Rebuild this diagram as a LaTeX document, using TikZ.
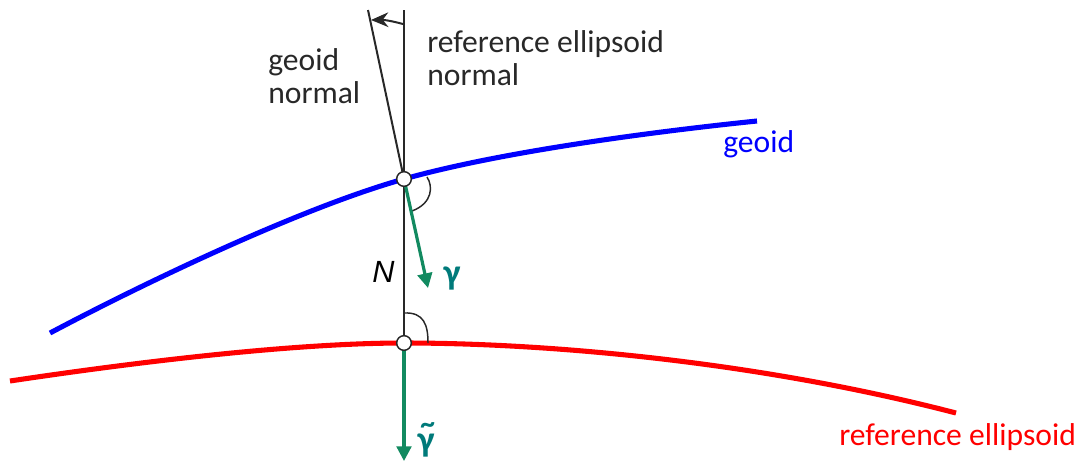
\documentclass[tikz,border=0pt]{standalone}
\usepackage{fontspec}
\setmainfont{Carlito}
\newfontfamily\arialfont{Liberation Sans}
\usetikzlibrary{arrows.meta}
\definecolor{geoidblue}{RGB}{0,0,255}
\definecolor{ellred}{RGB}{255,0,0}
\definecolor{arrgreen}{RGB}{18,138,96}
\definecolor{gamteal}{RGB}{0,122,122}
\definecolor{dark}{RGB}{40,40,40}
\tikzset{
  surf/.style={line width=3.8pt},
  normalline/.style={draw=dark, line width=1.5pt},
  grav/.style={draw=arrgreen, line width=2.4pt, -{Triangle[length=11pt,width=11pt]}},
  anglemark/.style={draw=dark, line width=1.1pt},
  pt/.style={circle, draw=black!85, fill=white, line width=1.1pt, minimum size=11pt, inner sep=0pt},
  lbl/.style={font=\fontsize{23.7}{24.75}\selectfont, inner sep=0pt, align=left},
  glbl/.style={font=\fontsize{27}{28}\selectfont\bfseries, text=gamteal, inner sep=0pt}
}
\begin{document}
\begin{tikzpicture}[x=0.75pt,y=-0.75pt]
\useasboundingbox (0,0) rectangle (1078,461);
% key points
\coordinate (P) at (404,179);
\coordinate (Q) at (404,343);
\coordinate (vtop) at (404,10);
\coordinate (gtop) at (368,10);
\coordinate (gtip) at (428,288);
\coordinate (etip) at (404,461);
\coordinate (arS) at (403,24);
\coordinate (arE) at (371,20);
% normals
\draw[normalline] (vtop) -- (Q);
\draw[normalline] (gtop) -- (P);
\draw[draw=dark, line width=1.5pt, -{Stealth[length=13pt,width=11pt]}] (arS) to[bend right=8] (arE);
% surfaces
\draw[surf, geoidblue] (50,333) .. controls (150,280) and (304,207) .. (P)
                        .. controls (500,152) and (650,132) .. (757,121);
\draw[surf, ellred] (10,381) .. controls (150,360) and (300,343) .. (Q)
                     .. controls (550,343) and (760,362) .. (956,413);
% angle marks
\draw[anglemark] (427,177) .. controls (433,186) and (433,203) .. (412,211);
\draw[anglemark] (404,313) .. controls (424,312) and (428,325) .. (428,343);
% gravity vectors
\draw[grav] (P) -- (gtip);
\draw[grav] (Q) -- (etip);
% points
\node[pt] (p1) at (P) {};
\node[pt] (q1) at (Q) {};
% labels
\node[lbl, text=dark, anchor=base west] (gn) at (268,103) {geoid\\normal};
\node[lbl, text=dark, anchor=base west] (en) at (427,85) {reference ellipsoid\\normal};
\node[lbl, text=geoidblue, anchor=base west] (gl) at (723,152) {geoid};
\node[lbl, text=ellred, anchor=base west] (el) at (839,445) {reference ellipsoid};
\node[font=\fontsize{23}{25}\selectfont\arialfont\itshape, inner sep=0pt, anchor=base west] (N) at (372,282) {N};
\node[glbl] (g1) at (452,279) {γ};
\node[glbl] (g2) at (426,440) {\makebox[0pt][l]{\hspace{0.08em}\raisebox{0.5em}{\fontsize{22}{22}\selectfont\textasciitilde}}γ};
\end{tikzpicture}
\end{document}
